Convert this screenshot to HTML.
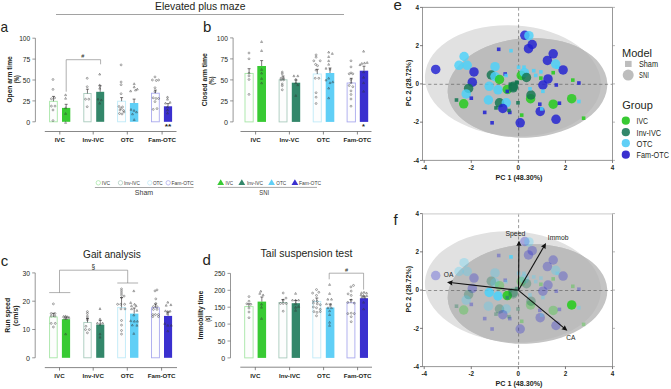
<!DOCTYPE html><html><head><meta charset="utf-8"><style>html,body{margin:0;padding:0;background:#fff;width:671px;height:389px;overflow:hidden;position:relative}</style></head><body><svg width="671" height="389" viewBox="0 0 671 389" style="position:absolute;left:0;top:0">
<g font-family='"Liberation Sans", sans-serif'>
<rect width="671" height="389" fill="#ffffff"/>
<text x="0.50" y="31.50" font-size="15" text-anchor="start" font-weight="normal" fill="#231f20" textLength="7.6" lengthAdjust="spacingAndGlyphs" >a</text>
<text x="203.10" y="32.00" font-size="15" text-anchor="start" font-weight="normal" fill="#231f20" >b</text>
<text x="0.70" y="265.60" font-size="15" text-anchor="start" font-weight="normal" fill="#231f20" >c</text>
<text x="202.60" y="265.20" font-size="15" text-anchor="start" font-weight="normal" fill="#231f20" >d</text>
<text x="393.50" y="9.60" font-size="15" text-anchor="start" font-weight="normal" fill="#231f20" >e</text>
<text x="393.50" y="224.60" font-size="15" text-anchor="start" font-weight="normal" fill="#231f20" >f</text>
<text x="155.00" y="9.80" font-size="10.3" text-anchor="start" font-weight="normal" fill="#231f20" textLength="90.4" lengthAdjust="spacingAndGlyphs" >Elevated plus maze</text>
<line x1="56.00" y1="14.50" x2="344.00" y2="14.50" stroke="#8a8a8a" stroke-width="0.8" />
<text x="83.10" y="257.60" font-size="10.3" text-anchor="start" font-weight="normal" fill="#231f20" textLength="57.7" lengthAdjust="spacingAndGlyphs" >Gait analysis</text>
<text x="260.60" y="257.40" font-size="10.3" text-anchor="start" font-weight="normal" fill="#231f20" textLength="91.8" lengthAdjust="spacingAndGlyphs" >Tail suspension test</text>
<line x1="35.40" y1="38.20" x2="35.40" y2="121.80" stroke="#6a6a6a" stroke-width="0.7" />
<line x1="32.40" y1="121.80" x2="35.40" y2="121.80" stroke="#6a6a6a" stroke-width="0.7" />
<text x="30.20" y="124.70" font-size="7" text-anchor="end" font-weight="normal" fill="#231f20" textLength="3.9499999999999997" lengthAdjust="spacingAndGlyphs" >0</text>
<line x1="32.40" y1="100.90" x2="35.40" y2="100.90" stroke="#6a6a6a" stroke-width="0.7" />
<text x="30.20" y="103.80" font-size="7" text-anchor="end" font-weight="normal" fill="#231f20" textLength="7.5" lengthAdjust="spacingAndGlyphs" >25</text>
<line x1="32.40" y1="80.00" x2="35.40" y2="80.00" stroke="#6a6a6a" stroke-width="0.7" />
<text x="30.20" y="82.90" font-size="7" text-anchor="end" font-weight="normal" fill="#231f20" textLength="7.5" lengthAdjust="spacingAndGlyphs" >50</text>
<line x1="32.40" y1="59.10" x2="35.40" y2="59.10" stroke="#6a6a6a" stroke-width="0.7" />
<text x="30.20" y="62.00" font-size="7" text-anchor="end" font-weight="normal" fill="#231f20" textLength="7.5" lengthAdjust="spacingAndGlyphs" >75</text>
<line x1="32.40" y1="38.20" x2="35.40" y2="38.20" stroke="#6a6a6a" stroke-width="0.7" />
<text x="30.20" y="41.10" font-size="7" text-anchor="end" font-weight="normal" fill="#231f20" textLength="11.049999999999999" lengthAdjust="spacingAndGlyphs" >100</text>
<line x1="44.80" y1="131.50" x2="176.50" y2="131.50" stroke="#555555" stroke-width="0.7" />
<line x1="59.80" y1="131.50" x2="59.80" y2="134.50" stroke="#555555" stroke-width="0.7" />
<text x="59.80" y="142.00" font-size="6.2" text-anchor="middle" font-weight="bold" fill="#231f20" >IVC</text>
<line x1="93.20" y1="131.50" x2="93.20" y2="134.50" stroke="#555555" stroke-width="0.7" />
<text x="93.20" y="142.00" font-size="6.2" text-anchor="middle" font-weight="bold" fill="#231f20" >Inv-IVC</text>
<line x1="127.30" y1="131.50" x2="127.30" y2="134.50" stroke="#555555" stroke-width="0.7" />
<text x="127.30" y="142.00" font-size="6.2" text-anchor="middle" font-weight="bold" fill="#231f20" >OTC</text>
<line x1="162.10" y1="131.50" x2="162.10" y2="134.50" stroke="#555555" stroke-width="0.7" />
<text x="162.10" y="142.00" font-size="6.2" text-anchor="middle" font-weight="bold" fill="#231f20" >Fam-OTC</text>
<rect x="49.60" y="101.30" width="7.70" height="20.50" fill="#fdfdfd" stroke="#a6e6a6" stroke-width="0.9"/>
<line x1="53.45" y1="96.40" x2="53.45" y2="101.30" stroke="#231f20" stroke-width="0.6" />
<line x1="51.95" y1="96.40" x2="54.95" y2="96.40" stroke="#231f20" stroke-width="0.6" />
<circle cx="53.00" cy="79.50" r="0.95" fill="none" stroke="#333" stroke-width="0.42"/>
<circle cx="53.00" cy="89.40" r="0.95" fill="none" stroke="#333" stroke-width="0.42"/>
<circle cx="51.40" cy="98.80" r="0.95" fill="none" stroke="#333" stroke-width="0.42"/>
<circle cx="54.60" cy="97.90" r="0.95" fill="none" stroke="#333" stroke-width="0.42"/>
<circle cx="51.40" cy="106.10" r="0.95" fill="none" stroke="#333" stroke-width="0.42"/>
<circle cx="55.00" cy="106.10" r="0.95" fill="none" stroke="#333" stroke-width="0.42"/>
<circle cx="53.00" cy="110.00" r="0.95" fill="none" stroke="#333" stroke-width="0.42"/>
<circle cx="53.00" cy="120.60" r="0.95" fill="none" stroke="#333" stroke-width="0.42"/>
<rect x="62.00" y="107.90" width="8.30" height="13.90" fill="#38ca33"/>
<line x1="66.15" y1="104.30" x2="66.15" y2="107.90" stroke="#231f20" stroke-width="0.6" />
<line x1="64.65" y1="104.30" x2="67.65" y2="104.30" stroke="#231f20" stroke-width="0.6" />
<path d="M65.60,93.85L66.60,95.70L64.60,95.70Z" fill="none" stroke="#333" stroke-width="0.42"/>
<path d="M65.60,97.35L66.60,99.20L64.60,99.20Z" fill="none" stroke="#333" stroke-width="0.42"/>
<path d="M65.60,106.75L66.60,108.60L64.60,108.60Z" fill="none" stroke="#333" stroke-width="0.42"/>
<path d="M65.60,112.55L66.60,114.40L64.60,114.40Z" fill="none" stroke="#333" stroke-width="0.42"/>
<path d="M65.60,121.55L66.60,123.40L64.60,123.40Z" fill="none" stroke="#333" stroke-width="0.42"/>
<rect x="83.80" y="93.50" width="7.30" height="28.30" fill="#fdfdfd" stroke="#a9cbbd" stroke-width="0.9"/>
<line x1="87.45" y1="89.20" x2="87.45" y2="93.50" stroke="#231f20" stroke-width="0.6" />
<line x1="85.95" y1="89.20" x2="88.95" y2="89.20" stroke="#231f20" stroke-width="0.6" />
<circle cx="87.20" cy="78.30" r="0.95" fill="none" stroke="#333" stroke-width="0.42"/>
<circle cx="87.20" cy="86.70" r="0.95" fill="none" stroke="#333" stroke-width="0.42"/>
<circle cx="85.50" cy="99.20" r="0.95" fill="none" stroke="#333" stroke-width="0.42"/>
<circle cx="88.80" cy="99.20" r="0.95" fill="none" stroke="#333" stroke-width="0.42"/>
<circle cx="87.20" cy="106.70" r="0.95" fill="none" stroke="#333" stroke-width="0.42"/>
<rect x="96.20" y="91.80" width="8.00" height="30.00" fill="#33876a"/>
<line x1="100.20" y1="85.80" x2="100.20" y2="91.80" stroke="#231f20" stroke-width="0.6" />
<line x1="98.70" y1="85.80" x2="101.70" y2="85.80" stroke="#231f20" stroke-width="0.6" />
<path d="M99.70,73.15L100.70,75.00L98.70,75.00Z" fill="none" stroke="#333" stroke-width="0.42"/>
<path d="M99.70,83.95L100.70,85.80L98.70,85.80Z" fill="none" stroke="#333" stroke-width="0.42"/>
<path d="M99.70,87.25L100.70,89.10L98.70,89.10Z" fill="none" stroke="#333" stroke-width="0.42"/>
<path d="M98.00,98.15L99.00,100.00L97.00,100.00Z" fill="none" stroke="#333" stroke-width="0.42"/>
<path d="M101.30,98.95L102.30,100.80L100.30,100.80Z" fill="none" stroke="#333" stroke-width="0.42"/>
<path d="M99.70,102.25L100.70,104.10L98.70,104.10Z" fill="none" stroke="#333" stroke-width="0.42"/>
<rect x="117.60" y="101.20" width="8.00" height="20.60" fill="#fdfdfd" stroke="#bfeaf8" stroke-width="0.9"/>
<line x1="121.60" y1="97.60" x2="121.60" y2="101.20" stroke="#231f20" stroke-width="0.6" />
<line x1="120.10" y1="97.60" x2="123.10" y2="97.60" stroke="#231f20" stroke-width="0.6" />
<circle cx="121.10" cy="64.90" r="0.95" fill="none" stroke="#333" stroke-width="0.42"/>
<circle cx="121.10" cy="82.00" r="0.95" fill="none" stroke="#333" stroke-width="0.42"/>
<circle cx="121.10" cy="84.70" r="0.95" fill="none" stroke="#333" stroke-width="0.42"/>
<circle cx="121.10" cy="93.70" r="0.95" fill="none" stroke="#333" stroke-width="0.42"/>
<circle cx="119.00" cy="106.50" r="0.95" fill="none" stroke="#333" stroke-width="0.42"/>
<circle cx="122.50" cy="107.00" r="0.95" fill="none" stroke="#333" stroke-width="0.42"/>
<circle cx="120.00" cy="110.00" r="0.95" fill="none" stroke="#333" stroke-width="0.42"/>
<circle cx="123.50" cy="110.50" r="0.95" fill="none" stroke="#333" stroke-width="0.42"/>
<circle cx="119.50" cy="113.50" r="0.95" fill="none" stroke="#333" stroke-width="0.42"/>
<circle cx="122.00" cy="114.00" r="0.95" fill="none" stroke="#333" stroke-width="0.42"/>
<circle cx="121.00" cy="108.50" r="0.95" fill="none" stroke="#333" stroke-width="0.42"/>
<circle cx="124.00" cy="112.00" r="0.95" fill="none" stroke="#333" stroke-width="0.42"/>
<rect x="129.90" y="103.00" width="8.40" height="18.80" fill="#60cff6"/>
<line x1="134.10" y1="99.10" x2="134.10" y2="103.00" stroke="#231f20" stroke-width="0.6" />
<line x1="132.60" y1="99.10" x2="135.60" y2="99.10" stroke="#231f20" stroke-width="0.6" />
<path d="M134.20,82.75L135.20,84.60L133.20,84.60Z" fill="none" stroke="#333" stroke-width="0.42"/>
<path d="M134.20,85.95L135.20,87.80L133.20,87.80Z" fill="none" stroke="#333" stroke-width="0.42"/>
<path d="M130.60,89.95L131.60,91.80L129.60,91.80Z" fill="none" stroke="#333" stroke-width="0.42"/>
<path d="M135.50,89.05L136.50,90.90L134.50,90.90Z" fill="none" stroke="#333" stroke-width="0.42"/>
<path d="M137.30,88.15L138.30,90.00L136.30,90.00Z" fill="none" stroke="#333" stroke-width="0.42"/>
<path d="M131.00,108.45L132.00,110.30L130.00,110.30Z" fill="none" stroke="#333" stroke-width="0.42"/>
<path d="M134.00,109.45L135.00,111.30L133.00,111.30Z" fill="none" stroke="#333" stroke-width="0.42"/>
<path d="M136.50,110.95L137.50,112.80L135.50,112.80Z" fill="none" stroke="#333" stroke-width="0.42"/>
<path d="M132.50,112.95L133.50,114.80L131.50,114.80Z" fill="none" stroke="#333" stroke-width="0.42"/>
<path d="M134.20,118.65L135.20,120.50L133.20,120.50Z" fill="none" stroke="#333" stroke-width="0.42"/>
<rect x="151.50" y="93.20" width="7.80" height="28.60" fill="#fdfdfd" stroke="#aaaaee" stroke-width="0.9"/>
<line x1="155.40" y1="90.10" x2="155.40" y2="93.20" stroke="#231f20" stroke-width="0.6" />
<line x1="153.90" y1="90.10" x2="156.90" y2="90.10" stroke="#231f20" stroke-width="0.6" />
<circle cx="155.00" cy="76.90" r="0.95" fill="none" stroke="#333" stroke-width="0.42"/>
<circle cx="152.40" cy="80.00" r="0.95" fill="none" stroke="#333" stroke-width="0.42"/>
<circle cx="156.30" cy="80.50" r="0.95" fill="none" stroke="#333" stroke-width="0.42"/>
<circle cx="158.60" cy="80.00" r="0.95" fill="none" stroke="#333" stroke-width="0.42"/>
<circle cx="155.00" cy="87.70" r="0.95" fill="none" stroke="#333" stroke-width="0.42"/>
<circle cx="155.00" cy="91.60" r="0.95" fill="none" stroke="#333" stroke-width="0.42"/>
<circle cx="153.20" cy="97.80" r="0.95" fill="none" stroke="#333" stroke-width="0.42"/>
<circle cx="156.00" cy="98.50" r="0.95" fill="none" stroke="#333" stroke-width="0.42"/>
<circle cx="158.60" cy="98.50" r="0.95" fill="none" stroke="#333" stroke-width="0.42"/>
<circle cx="155.00" cy="101.60" r="0.95" fill="none" stroke="#333" stroke-width="0.42"/>
<circle cx="153.20" cy="109.40" r="0.95" fill="none" stroke="#333" stroke-width="0.42"/>
<circle cx="157.00" cy="108.60" r="0.95" fill="none" stroke="#333" stroke-width="0.42"/>
<rect x="163.90" y="106.30" width="8.20" height="15.50" fill="#3a30cf"/>
<line x1="168.00" y1="103.60" x2="168.00" y2="106.30" stroke="#231f20" stroke-width="0.6" />
<line x1="166.50" y1="103.60" x2="169.50" y2="103.60" stroke="#231f20" stroke-width="0.6" />
<path d="M167.50,95.95L168.50,97.80L166.50,97.80Z" fill="none" stroke="#333" stroke-width="0.42"/>
<path d="M167.50,98.25L168.50,100.10L166.50,100.10Z" fill="none" stroke="#333" stroke-width="0.42"/>
<path d="M165.50,102.15L166.50,104.00L164.50,104.00Z" fill="none" stroke="#333" stroke-width="0.42"/>
<path d="M170.10,101.35L171.10,103.20L169.10,103.20Z" fill="none" stroke="#333" stroke-width="0.42"/>
<path d="M167.50,105.95L168.50,107.80L166.50,107.80Z" fill="none" stroke="#333" stroke-width="0.42"/>
<path d="M167.50,109.05L168.50,110.90L166.50,110.90Z" fill="none" stroke="#333" stroke-width="0.42"/>
<path d="M167.50,112.15L168.50,114.00L166.50,114.00Z" fill="none" stroke="#333" stroke-width="0.42"/>
<g transform="translate(12.40,79.40) rotate(-90)"><text x="0" y="0" font-size="7" font-weight="bold" text-anchor="middle" fill="#231f20" textLength="46.3" lengthAdjust="spacingAndGlyphs">Open arm time</text></g>
<g transform="translate(18.60,79.30) rotate(-90)"><text x="0" y="0" font-size="6.3" font-weight="bold" text-anchor="middle" fill="#231f20" textLength="8" lengthAdjust="spacingAndGlyphs">(%)</text></g>
<line x1="233.10" y1="37.90" x2="233.10" y2="121.90" stroke="#6a6a6a" stroke-width="0.7" />
<line x1="230.10" y1="121.90" x2="233.10" y2="121.90" stroke="#6a6a6a" stroke-width="0.7" />
<text x="227.90" y="124.80" font-size="7" text-anchor="end" font-weight="normal" fill="#231f20" textLength="3.9499999999999997" lengthAdjust="spacingAndGlyphs" >0</text>
<line x1="230.10" y1="100.90" x2="233.10" y2="100.90" stroke="#6a6a6a" stroke-width="0.7" />
<text x="227.90" y="103.80" font-size="7" text-anchor="end" font-weight="normal" fill="#231f20" textLength="7.5" lengthAdjust="spacingAndGlyphs" >25</text>
<line x1="230.10" y1="79.90" x2="233.10" y2="79.90" stroke="#6a6a6a" stroke-width="0.7" />
<text x="227.90" y="82.80" font-size="7" text-anchor="end" font-weight="normal" fill="#231f20" textLength="7.5" lengthAdjust="spacingAndGlyphs" >50</text>
<line x1="230.10" y1="58.90" x2="233.10" y2="58.90" stroke="#6a6a6a" stroke-width="0.7" />
<text x="227.90" y="61.80" font-size="7" text-anchor="end" font-weight="normal" fill="#231f20" textLength="7.5" lengthAdjust="spacingAndGlyphs" >75</text>
<line x1="230.10" y1="37.90" x2="233.10" y2="37.90" stroke="#6a6a6a" stroke-width="0.7" />
<text x="227.90" y="40.80" font-size="7" text-anchor="end" font-weight="normal" fill="#231f20" textLength="11.049999999999999" lengthAdjust="spacingAndGlyphs" >100</text>
<line x1="240.50" y1="131.50" x2="371.50" y2="131.50" stroke="#555555" stroke-width="0.7" />
<line x1="255.60" y1="131.50" x2="255.60" y2="134.50" stroke="#555555" stroke-width="0.7" />
<text x="255.60" y="142.00" font-size="6.2" text-anchor="middle" font-weight="bold" fill="#231f20" >IVC</text>
<line x1="289.40" y1="131.50" x2="289.40" y2="134.50" stroke="#555555" stroke-width="0.7" />
<text x="289.40" y="142.00" font-size="6.2" text-anchor="middle" font-weight="bold" fill="#231f20" >Inv-VC</text>
<line x1="323.40" y1="131.50" x2="323.40" y2="134.50" stroke="#555555" stroke-width="0.7" />
<text x="323.40" y="142.00" font-size="6.2" text-anchor="middle" font-weight="bold" fill="#231f20" >OTC</text>
<line x1="357.40" y1="131.50" x2="357.40" y2="134.50" stroke="#555555" stroke-width="0.7" />
<text x="357.40" y="142.00" font-size="6.2" text-anchor="middle" font-weight="bold" fill="#231f20" >Fam-OTC</text>
<rect x="245.00" y="73.40" width="8.20" height="48.50" fill="#fdfdfd" stroke="#a6e6a6" stroke-width="0.9"/>
<line x1="249.10" y1="68.70" x2="249.10" y2="73.40" stroke="#231f20" stroke-width="0.6" />
<line x1="247.60" y1="68.70" x2="250.60" y2="68.70" stroke="#231f20" stroke-width="0.6" />
<circle cx="249.00" cy="53.00" r="0.95" fill="none" stroke="#333" stroke-width="0.42"/>
<circle cx="249.00" cy="58.80" r="0.95" fill="none" stroke="#333" stroke-width="0.42"/>
<circle cx="249.00" cy="73.20" r="0.95" fill="none" stroke="#333" stroke-width="0.42"/>
<circle cx="249.00" cy="75.90" r="0.95" fill="none" stroke="#333" stroke-width="0.42"/>
<circle cx="249.00" cy="79.50" r="0.95" fill="none" stroke="#333" stroke-width="0.42"/>
<circle cx="249.00" cy="94.40" r="0.95" fill="none" stroke="#333" stroke-width="0.42"/>
<rect x="257.30" y="66.00" width="8.70" height="55.90" fill="#38ca33"/>
<line x1="261.65" y1="60.60" x2="261.65" y2="66.00" stroke="#231f20" stroke-width="0.6" />
<line x1="260.15" y1="60.60" x2="263.15" y2="60.60" stroke="#231f20" stroke-width="0.6" />
<path d="M261.60,40.65L262.60,42.50L260.60,42.50Z" fill="none" stroke="#333" stroke-width="0.42"/>
<path d="M261.60,49.65L262.60,51.50L260.60,51.50Z" fill="none" stroke="#333" stroke-width="0.42"/>
<path d="M261.60,68.55L262.60,70.40L260.60,70.40Z" fill="none" stroke="#333" stroke-width="0.42"/>
<path d="M261.60,72.15L262.60,74.00L260.60,74.00Z" fill="none" stroke="#333" stroke-width="0.42"/>
<path d="M261.60,77.55L262.60,79.40L260.60,79.40Z" fill="none" stroke="#333" stroke-width="0.42"/>
<path d="M261.60,81.95L262.60,83.80L260.60,83.80Z" fill="none" stroke="#333" stroke-width="0.42"/>
<rect x="279.10" y="79.80" width="7.90" height="42.10" fill="#fdfdfd" stroke="#a9cbbd" stroke-width="0.9"/>
<line x1="283.05" y1="76.00" x2="283.05" y2="79.80" stroke="#231f20" stroke-width="0.6" />
<line x1="281.55" y1="76.00" x2="284.55" y2="76.00" stroke="#231f20" stroke-width="0.6" />
<circle cx="282.30" cy="72.10" r="0.95" fill="none" stroke="#333" stroke-width="0.42"/>
<circle cx="282.30" cy="73.80" r="0.95" fill="none" stroke="#333" stroke-width="0.42"/>
<circle cx="281.00" cy="78.20" r="0.95" fill="none" stroke="#333" stroke-width="0.42"/>
<circle cx="283.60" cy="78.20" r="0.95" fill="none" stroke="#333" stroke-width="0.42"/>
<circle cx="281.00" cy="79.90" r="0.95" fill="none" stroke="#333" stroke-width="0.42"/>
<circle cx="283.60" cy="79.90" r="0.95" fill="none" stroke="#333" stroke-width="0.42"/>
<circle cx="282.30" cy="84.00" r="0.95" fill="none" stroke="#333" stroke-width="0.42"/>
<circle cx="282.30" cy="85.70" r="0.95" fill="none" stroke="#333" stroke-width="0.42"/>
<circle cx="282.30" cy="89.80" r="0.95" fill="none" stroke="#333" stroke-width="0.42"/>
<rect x="291.80" y="82.70" width="8.40" height="39.20" fill="#33876a"/>
<line x1="296.00" y1="80.00" x2="296.00" y2="82.70" stroke="#231f20" stroke-width="0.6" />
<line x1="294.50" y1="80.00" x2="297.50" y2="80.00" stroke="#231f20" stroke-width="0.6" />
<path d="M293.90,74.85L294.90,76.70L292.90,76.70Z" fill="none" stroke="#333" stroke-width="0.42"/>
<path d="M297.80,74.85L298.80,76.70L296.80,76.70Z" fill="none" stroke="#333" stroke-width="0.42"/>
<path d="M295.80,78.25L296.80,80.10L294.80,80.10Z" fill="none" stroke="#333" stroke-width="0.42"/>
<path d="M295.80,81.75L296.80,83.60L294.80,83.60Z" fill="none" stroke="#333" stroke-width="0.42"/>
<path d="M297.80,83.85L298.80,85.70L296.80,85.70Z" fill="none" stroke="#333" stroke-width="0.42"/>
<path d="M295.80,94.55L296.80,96.40L294.80,96.40Z" fill="none" stroke="#333" stroke-width="0.42"/>
<rect x="313.20" y="74.00" width="8.10" height="47.90" fill="#fdfdfd" stroke="#bfeaf8" stroke-width="0.9"/>
<line x1="317.25" y1="69.30" x2="317.25" y2="74.00" stroke="#231f20" stroke-width="0.6" />
<line x1="315.75" y1="69.30" x2="318.75" y2="69.30" stroke="#231f20" stroke-width="0.6" />
<circle cx="316.10" cy="54.90" r="0.95" fill="none" stroke="#333" stroke-width="0.42"/>
<circle cx="316.10" cy="57.20" r="0.95" fill="none" stroke="#333" stroke-width="0.42"/>
<circle cx="313.80" cy="60.80" r="0.95" fill="none" stroke="#333" stroke-width="0.42"/>
<circle cx="320.20" cy="60.80" r="0.95" fill="none" stroke="#333" stroke-width="0.42"/>
<circle cx="315.60" cy="64.40" r="0.95" fill="none" stroke="#333" stroke-width="0.42"/>
<circle cx="317.50" cy="65.70" r="0.95" fill="none" stroke="#333" stroke-width="0.42"/>
<circle cx="316.10" cy="70.20" r="0.95" fill="none" stroke="#333" stroke-width="0.42"/>
<circle cx="315.20" cy="78.30" r="0.95" fill="none" stroke="#333" stroke-width="0.42"/>
<circle cx="318.80" cy="78.30" r="0.95" fill="none" stroke="#333" stroke-width="0.42"/>
<circle cx="316.10" cy="92.70" r="0.95" fill="none" stroke="#333" stroke-width="0.42"/>
<circle cx="316.10" cy="97.20" r="0.95" fill="none" stroke="#333" stroke-width="0.42"/>
<circle cx="316.10" cy="103.50" r="0.95" fill="none" stroke="#333" stroke-width="0.42"/>
<rect x="325.70" y="73.00" width="8.60" height="48.90" fill="#60cff6"/>
<line x1="330.00" y1="68.00" x2="330.00" y2="73.00" stroke="#231f20" stroke-width="0.6" />
<line x1="328.50" y1="68.00" x2="331.50" y2="68.00" stroke="#231f20" stroke-width="0.6" />
<path d="M328.70,51.15L329.70,53.00L327.70,53.00Z" fill="none" stroke="#333" stroke-width="0.42"/>
<path d="M332.30,52.55L333.30,54.40L331.30,54.40Z" fill="none" stroke="#333" stroke-width="0.42"/>
<path d="M328.70,55.65L329.70,57.50L327.70,57.50Z" fill="none" stroke="#333" stroke-width="0.42"/>
<path d="M328.70,59.75L329.70,61.60L327.70,61.60Z" fill="none" stroke="#333" stroke-width="0.42"/>
<path d="M328.70,63.35L329.70,65.20L327.70,65.20Z" fill="none" stroke="#333" stroke-width="0.42"/>
<path d="M326.00,67.35L327.00,69.20L325.00,69.20Z" fill="none" stroke="#333" stroke-width="0.42"/>
<path d="M330.00,68.25L331.00,70.10L329.00,70.10Z" fill="none" stroke="#333" stroke-width="0.42"/>
<path d="M328.70,77.25L329.70,79.10L327.70,79.10Z" fill="none" stroke="#333" stroke-width="0.42"/>
<path d="M326.00,79.05L327.00,80.90L325.00,80.90Z" fill="none" stroke="#333" stroke-width="0.42"/>
<path d="M330.00,81.75L331.00,83.60L329.00,83.60Z" fill="none" stroke="#333" stroke-width="0.42"/>
<path d="M332.80,80.85L333.80,82.70L331.80,82.70Z" fill="none" stroke="#333" stroke-width="0.42"/>
<path d="M328.70,87.15L329.70,89.00L327.70,89.00Z" fill="none" stroke="#333" stroke-width="0.42"/>
<path d="M328.70,96.95L329.70,98.80L327.70,98.80Z" fill="none" stroke="#333" stroke-width="0.42"/>
<rect x="347.10" y="83.00" width="8.30" height="38.90" fill="#fdfdfd" stroke="#aaaaee" stroke-width="0.9"/>
<line x1="351.25" y1="78.30" x2="351.25" y2="83.00" stroke="#231f20" stroke-width="0.6" />
<line x1="349.75" y1="78.30" x2="352.75" y2="78.30" stroke="#231f20" stroke-width="0.6" />
<circle cx="351.00" cy="60.80" r="0.95" fill="none" stroke="#333" stroke-width="0.42"/>
<circle cx="351.00" cy="66.90" r="0.95" fill="none" stroke="#333" stroke-width="0.42"/>
<circle cx="351.00" cy="72.90" r="0.95" fill="none" stroke="#333" stroke-width="0.42"/>
<circle cx="349.20" cy="73.80" r="0.95" fill="none" stroke="#333" stroke-width="0.42"/>
<circle cx="352.80" cy="73.80" r="0.95" fill="none" stroke="#333" stroke-width="0.42"/>
<circle cx="351.00" cy="79.50" r="0.95" fill="none" stroke="#333" stroke-width="0.42"/>
<circle cx="351.00" cy="82.80" r="0.95" fill="none" stroke="#333" stroke-width="0.42"/>
<circle cx="349.20" cy="85.50" r="0.95" fill="none" stroke="#333" stroke-width="0.42"/>
<circle cx="352.80" cy="86.70" r="0.95" fill="none" stroke="#333" stroke-width="0.42"/>
<circle cx="351.00" cy="90.90" r="0.95" fill="none" stroke="#333" stroke-width="0.42"/>
<circle cx="351.00" cy="94.50" r="0.95" fill="none" stroke="#333" stroke-width="0.42"/>
<circle cx="351.00" cy="99.00" r="0.95" fill="none" stroke="#333" stroke-width="0.42"/>
<circle cx="351.00" cy="106.20" r="0.95" fill="none" stroke="#333" stroke-width="0.42"/>
<rect x="359.80" y="70.70" width="8.40" height="51.20" fill="#3a30cf"/>
<line x1="364.00" y1="66.20" x2="364.00" y2="70.70" stroke="#231f20" stroke-width="0.6" />
<line x1="362.50" y1="66.20" x2="365.50" y2="66.20" stroke="#231f20" stroke-width="0.6" />
<path d="M363.60,50.25L364.60,52.10L362.60,52.10Z" fill="none" stroke="#333" stroke-width="0.42"/>
<path d="M360.00,63.75L361.00,65.60L359.00,65.60Z" fill="none" stroke="#333" stroke-width="0.42"/>
<path d="M361.80,62.45L362.80,64.30L360.80,64.30Z" fill="none" stroke="#333" stroke-width="0.42"/>
<path d="M364.50,61.95L365.50,63.80L363.50,63.80Z" fill="none" stroke="#333" stroke-width="0.42"/>
<path d="M367.20,61.55L368.20,63.40L366.20,63.40Z" fill="none" stroke="#333" stroke-width="0.42"/>
<path d="M363.60,70.95L364.60,72.80L362.60,72.80Z" fill="none" stroke="#333" stroke-width="0.42"/>
<path d="M363.60,76.35L364.60,78.20L362.60,78.20Z" fill="none" stroke="#333" stroke-width="0.42"/>
<path d="M363.60,81.75L364.60,83.60L362.60,83.60Z" fill="none" stroke="#333" stroke-width="0.42"/>
<path d="M363.60,90.35L364.60,92.20L362.60,92.20Z" fill="none" stroke="#333" stroke-width="0.42"/>
<g transform="translate(207.30,79.70) rotate(-90)"><text x="0" y="0" font-size="7" font-weight="bold" text-anchor="middle" fill="#231f20" textLength="53.1" lengthAdjust="spacingAndGlyphs">Closed arm time</text></g>
<g transform="translate(213.80,80.70) rotate(-90)"><text x="0" y="0" font-size="6.3" font-weight="bold" text-anchor="middle" fill="#231f20" textLength="8.2" lengthAdjust="spacingAndGlyphs">(%)</text></g>
<line x1="35.20" y1="272.90" x2="35.20" y2="357.80" stroke="#6a6a6a" stroke-width="0.7" />
<line x1="32.20" y1="357.80" x2="35.20" y2="357.80" stroke="#6a6a6a" stroke-width="0.7" />
<text x="30.00" y="360.70" font-size="7" text-anchor="end" font-weight="normal" fill="#231f20" textLength="3.9499999999999997" lengthAdjust="spacingAndGlyphs" >0</text>
<line x1="32.20" y1="329.50" x2="35.20" y2="329.50" stroke="#6a6a6a" stroke-width="0.7" />
<text x="30.00" y="332.40" font-size="7" text-anchor="end" font-weight="normal" fill="#231f20" textLength="7.5" lengthAdjust="spacingAndGlyphs" >10</text>
<line x1="32.20" y1="301.20" x2="35.20" y2="301.20" stroke="#6a6a6a" stroke-width="0.7" />
<text x="30.00" y="304.10" font-size="7" text-anchor="end" font-weight="normal" fill="#231f20" textLength="7.5" lengthAdjust="spacingAndGlyphs" >20</text>
<line x1="32.20" y1="272.90" x2="35.20" y2="272.90" stroke="#6a6a6a" stroke-width="0.7" />
<text x="30.00" y="275.80" font-size="7" text-anchor="end" font-weight="normal" fill="#231f20" textLength="7.5" lengthAdjust="spacingAndGlyphs" >30</text>
<line x1="44.80" y1="367.60" x2="177.00" y2="367.60" stroke="#555555" stroke-width="0.7" />
<line x1="59.50" y1="367.60" x2="59.50" y2="370.60" stroke="#555555" stroke-width="0.7" />
<text x="59.50" y="378.10" font-size="6.2" text-anchor="middle" font-weight="bold" fill="#231f20" >IVC</text>
<line x1="93.20" y1="367.60" x2="93.20" y2="370.60" stroke="#555555" stroke-width="0.7" />
<text x="93.20" y="378.10" font-size="6.2" text-anchor="middle" font-weight="bold" fill="#231f20" >Inv-IVC</text>
<line x1="127.30" y1="367.60" x2="127.30" y2="370.60" stroke="#555555" stroke-width="0.7" />
<text x="127.30" y="378.10" font-size="6.2" text-anchor="middle" font-weight="bold" fill="#231f20" >OTC</text>
<line x1="161.60" y1="367.60" x2="161.60" y2="370.60" stroke="#555555" stroke-width="0.7" />
<text x="161.60" y="378.10" font-size="6.2" text-anchor="middle" font-weight="bold" fill="#231f20" >Fam-OTC</text>
<rect x="49.60" y="317.00" width="7.60" height="40.80" fill="#fdfdfd" stroke="#a6e6a6" stroke-width="0.9"/>
<line x1="53.40" y1="313.30" x2="53.40" y2="317.00" stroke="#231f20" stroke-width="0.6" />
<line x1="51.90" y1="313.30" x2="54.90" y2="313.30" stroke="#231f20" stroke-width="0.6" />
<circle cx="53.40" cy="303.90" r="0.95" fill="none" stroke="#333" stroke-width="0.42"/>
<circle cx="51.20" cy="313.50" r="0.95" fill="none" stroke="#333" stroke-width="0.42"/>
<circle cx="55.00" cy="313.50" r="0.95" fill="none" stroke="#333" stroke-width="0.42"/>
<circle cx="51.20" cy="316.10" r="0.95" fill="none" stroke="#333" stroke-width="0.42"/>
<circle cx="55.00" cy="316.10" r="0.95" fill="none" stroke="#333" stroke-width="0.42"/>
<circle cx="51.20" cy="323.40" r="0.95" fill="none" stroke="#333" stroke-width="0.42"/>
<circle cx="55.30" cy="323.40" r="0.95" fill="none" stroke="#333" stroke-width="0.42"/>
<circle cx="53.40" cy="327.00" r="0.95" fill="none" stroke="#333" stroke-width="0.42"/>
<rect x="61.90" y="319.20" width="8.20" height="38.60" fill="#38ca33"/>
<line x1="66.00" y1="317.00" x2="66.00" y2="319.20" stroke="#231f20" stroke-width="0.6" />
<line x1="64.50" y1="317.00" x2="67.50" y2="317.00" stroke="#231f20" stroke-width="0.6" />
<path d="M63.50,315.45L64.50,317.30L62.50,317.30Z" fill="none" stroke="#333" stroke-width="0.42"/>
<path d="M65.50,314.95L66.50,316.80L64.50,316.80Z" fill="none" stroke="#333" stroke-width="0.42"/>
<path d="M67.50,315.75L68.50,317.60L66.50,317.60Z" fill="none" stroke="#333" stroke-width="0.42"/>
<path d="M69.00,316.45L70.00,318.30L68.00,318.30Z" fill="none" stroke="#333" stroke-width="0.42"/>
<path d="M64.50,317.45L65.50,319.30L63.50,319.30Z" fill="none" stroke="#333" stroke-width="0.42"/>
<path d="M66.50,317.55L67.50,319.40L65.50,319.40Z" fill="none" stroke="#333" stroke-width="0.42"/>
<path d="M65.60,332.95L66.60,334.80L64.60,334.80Z" fill="none" stroke="#333" stroke-width="0.42"/>
<rect x="83.80" y="322.40" width="7.40" height="35.40" fill="#fdfdfd" stroke="#a9cbbd" stroke-width="0.9"/>
<line x1="87.50" y1="318.50" x2="87.50" y2="322.40" stroke="#231f20" stroke-width="0.6" />
<line x1="86.00" y1="318.50" x2="89.00" y2="318.50" stroke="#231f20" stroke-width="0.6" />
<circle cx="87.40" cy="311.60" r="0.95" fill="none" stroke="#333" stroke-width="0.42"/>
<circle cx="87.40" cy="313.50" r="0.95" fill="none" stroke="#333" stroke-width="0.42"/>
<circle cx="87.40" cy="316.10" r="0.95" fill="none" stroke="#333" stroke-width="0.42"/>
<circle cx="87.40" cy="318.00" r="0.95" fill="none" stroke="#333" stroke-width="0.42"/>
<circle cx="87.40" cy="319.90" r="0.95" fill="none" stroke="#333" stroke-width="0.42"/>
<circle cx="85.90" cy="326.30" r="0.95" fill="none" stroke="#333" stroke-width="0.42"/>
<circle cx="85.50" cy="329.60" r="0.95" fill="none" stroke="#333" stroke-width="0.42"/>
<circle cx="89.30" cy="329.60" r="0.95" fill="none" stroke="#333" stroke-width="0.42"/>
<circle cx="87.40" cy="332.80" r="0.95" fill="none" stroke="#333" stroke-width="0.42"/>
<rect x="96.20" y="324.60" width="8.10" height="33.20" fill="#33876a"/>
<line x1="100.25" y1="320.50" x2="100.25" y2="324.60" stroke="#231f20" stroke-width="0.6" />
<line x1="98.75" y1="320.50" x2="101.75" y2="320.50" stroke="#231f20" stroke-width="0.6" />
<path d="M100.00,307.65L101.00,309.50L99.00,309.50Z" fill="none" stroke="#333" stroke-width="0.42"/>
<path d="M100.00,317.95L101.00,319.80L99.00,319.80Z" fill="none" stroke="#333" stroke-width="0.42"/>
<path d="M97.40,322.05L98.40,323.90L96.40,323.90Z" fill="none" stroke="#333" stroke-width="0.42"/>
<path d="M102.60,322.05L103.60,323.90L101.60,323.90Z" fill="none" stroke="#333" stroke-width="0.42"/>
<path d="M100.00,323.35L101.00,325.20L99.00,325.20Z" fill="none" stroke="#333" stroke-width="0.42"/>
<path d="M100.00,332.95L101.00,334.80L99.00,334.80Z" fill="none" stroke="#333" stroke-width="0.42"/>
<path d="M100.00,336.25L101.00,338.10L99.00,338.10Z" fill="none" stroke="#333" stroke-width="0.42"/>
<rect x="117.70" y="307.40" width="7.70" height="50.40" fill="#fdfdfd" stroke="#bfeaf8" stroke-width="0.9"/>
<line x1="121.55" y1="297.50" x2="121.55" y2="307.40" stroke="#231f20" stroke-width="0.6" />
<line x1="120.05" y1="297.50" x2="123.05" y2="297.50" stroke="#231f20" stroke-width="0.6" />
<circle cx="121.50" cy="288.90" r="0.95" fill="none" stroke="#333" stroke-width="0.42"/>
<circle cx="121.50" cy="290.90" r="0.95" fill="none" stroke="#333" stroke-width="0.42"/>
<circle cx="121.50" cy="293.00" r="0.95" fill="none" stroke="#333" stroke-width="0.42"/>
<circle cx="121.50" cy="295.00" r="0.95" fill="none" stroke="#333" stroke-width="0.42"/>
<circle cx="124.10" cy="296.10" r="0.95" fill="none" stroke="#333" stroke-width="0.42"/>
<circle cx="121.50" cy="297.70" r="0.95" fill="none" stroke="#333" stroke-width="0.42"/>
<circle cx="117.60" cy="304.30" r="0.95" fill="none" stroke="#333" stroke-width="0.42"/>
<circle cx="120.70" cy="304.30" r="0.95" fill="none" stroke="#333" stroke-width="0.42"/>
<circle cx="124.60" cy="304.30" r="0.95" fill="none" stroke="#333" stroke-width="0.42"/>
<circle cx="121.00" cy="308.90" r="0.95" fill="none" stroke="#333" stroke-width="0.42"/>
<circle cx="125.00" cy="308.90" r="0.95" fill="none" stroke="#333" stroke-width="0.42"/>
<circle cx="121.50" cy="320.50" r="0.95" fill="none" stroke="#333" stroke-width="0.42"/>
<circle cx="121.50" cy="325.10" r="0.95" fill="none" stroke="#333" stroke-width="0.42"/>
<circle cx="121.50" cy="330.50" r="0.95" fill="none" stroke="#333" stroke-width="0.42"/>
<circle cx="121.50" cy="334.10" r="0.95" fill="none" stroke="#333" stroke-width="0.42"/>
<rect x="130.00" y="313.60" width="8.40" height="44.20" fill="#60cff6"/>
<line x1="134.20" y1="308.00" x2="134.20" y2="313.60" stroke="#231f20" stroke-width="0.6" />
<line x1="132.70" y1="308.00" x2="135.70" y2="308.00" stroke="#231f20" stroke-width="0.6" />
<path d="M133.80,289.85L134.80,291.70L132.80,291.70Z" fill="none" stroke="#333" stroke-width="0.42"/>
<path d="M130.70,301.65L131.70,303.50L129.70,303.50Z" fill="none" stroke="#333" stroke-width="0.42"/>
<path d="M134.60,303.25L135.60,305.10L133.60,305.10Z" fill="none" stroke="#333" stroke-width="0.42"/>
<path d="M131.50,304.75L132.50,306.60L130.50,306.60Z" fill="none" stroke="#333" stroke-width="0.42"/>
<path d="M136.10,304.75L137.10,306.60L135.10,306.60Z" fill="none" stroke="#333" stroke-width="0.42"/>
<path d="M131.50,307.85L132.50,309.70L130.50,309.70Z" fill="none" stroke="#333" stroke-width="0.42"/>
<path d="M136.90,309.45L137.90,311.30L135.90,311.30Z" fill="none" stroke="#333" stroke-width="0.42"/>
<path d="M133.80,314.05L134.80,315.90L132.80,315.90Z" fill="none" stroke="#333" stroke-width="0.42"/>
<path d="M130.70,319.75L131.70,321.60L129.70,321.60Z" fill="none" stroke="#333" stroke-width="0.42"/>
<path d="M134.30,320.25L135.30,322.10L133.30,322.10Z" fill="none" stroke="#333" stroke-width="0.42"/>
<path d="M137.40,320.25L138.40,322.10L136.40,322.10Z" fill="none" stroke="#333" stroke-width="0.42"/>
<path d="M132.30,324.05L133.30,325.90L131.30,325.90Z" fill="none" stroke="#333" stroke-width="0.42"/>
<path d="M136.90,324.35L137.90,326.20L135.90,326.20Z" fill="none" stroke="#333" stroke-width="0.42"/>
<path d="M133.80,332.55L134.80,334.40L132.80,334.40Z" fill="none" stroke="#333" stroke-width="0.42"/>
<rect x="151.50" y="307.80" width="7.90" height="50.00" fill="#fdfdfd" stroke="#aaaaee" stroke-width="0.9"/>
<line x1="155.45" y1="304.00" x2="155.45" y2="307.80" stroke="#231f20" stroke-width="0.6" />
<line x1="153.95" y1="304.00" x2="156.95" y2="304.00" stroke="#231f20" stroke-width="0.6" />
<circle cx="155.00" cy="290.90" r="0.95" fill="none" stroke="#333" stroke-width="0.42"/>
<circle cx="157.00" cy="289.90" r="0.95" fill="none" stroke="#333" stroke-width="0.42"/>
<circle cx="155.80" cy="298.90" r="0.95" fill="none" stroke="#333" stroke-width="0.42"/>
<circle cx="155.80" cy="303.50" r="0.95" fill="none" stroke="#333" stroke-width="0.42"/>
<circle cx="153.40" cy="306.60" r="0.95" fill="none" stroke="#333" stroke-width="0.42"/>
<circle cx="157.00" cy="306.60" r="0.95" fill="none" stroke="#333" stroke-width="0.42"/>
<circle cx="153.40" cy="309.40" r="0.95" fill="none" stroke="#333" stroke-width="0.42"/>
<circle cx="157.00" cy="309.40" r="0.95" fill="none" stroke="#333" stroke-width="0.42"/>
<circle cx="152.80" cy="314.60" r="0.95" fill="none" stroke="#333" stroke-width="0.42"/>
<circle cx="155.40" cy="314.60" r="0.95" fill="none" stroke="#333" stroke-width="0.42"/>
<circle cx="158.50" cy="314.60" r="0.95" fill="none" stroke="#333" stroke-width="0.42"/>
<circle cx="152.80" cy="316.60" r="0.95" fill="none" stroke="#333" stroke-width="0.42"/>
<circle cx="158.50" cy="316.60" r="0.95" fill="none" stroke="#333" stroke-width="0.42"/>
<rect x="164.00" y="315.90" width="8.10" height="41.90" fill="#3a30cf"/>
<line x1="168.05" y1="312.00" x2="168.05" y2="315.90" stroke="#231f20" stroke-width="0.6" />
<line x1="166.55" y1="312.00" x2="169.55" y2="312.00" stroke="#231f20" stroke-width="0.6" />
<path d="M167.80,301.25L168.80,303.10L166.80,303.10Z" fill="none" stroke="#333" stroke-width="0.42"/>
<path d="M166.20,304.35L167.20,306.20L165.20,306.20Z" fill="none" stroke="#333" stroke-width="0.42"/>
<path d="M170.90,303.75L171.90,305.60L169.90,305.60Z" fill="none" stroke="#333" stroke-width="0.42"/>
<path d="M165.50,309.85L166.50,311.70L164.50,311.70Z" fill="none" stroke="#333" stroke-width="0.42"/>
<path d="M167.80,310.45L168.80,312.30L166.80,312.30Z" fill="none" stroke="#333" stroke-width="0.42"/>
<path d="M170.10,310.15L171.10,312.00L169.10,312.00Z" fill="none" stroke="#333" stroke-width="0.42"/>
<path d="M167.30,312.45L168.30,314.30L166.30,314.30Z" fill="none" stroke="#333" stroke-width="0.42"/>
<path d="M164.70,322.55L165.70,324.40L163.70,324.40Z" fill="none" stroke="#333" stroke-width="0.42"/>
<path d="M167.80,324.35L168.80,326.20L166.80,326.20Z" fill="none" stroke="#333" stroke-width="0.42"/>
<path d="M171.30,324.35L172.30,326.20L170.30,326.20Z" fill="none" stroke="#333" stroke-width="0.42"/>
<path d="M167.80,329.95L168.80,331.80L166.80,331.80Z" fill="none" stroke="#333" stroke-width="0.42"/>
<g transform="translate(9.90,315.30) rotate(-90)"><text x="0" y="0" font-size="7" font-weight="bold" text-anchor="middle" fill="#231f20" textLength="34.7" lengthAdjust="spacingAndGlyphs">Run speed</text></g>
<g transform="translate(18.40,315.70) rotate(-90)"><text x="0" y="0" font-size="6.3" font-weight="bold" text-anchor="middle" fill="#231f20" textLength="20.6" lengthAdjust="spacingAndGlyphs">(cm/s)</text></g>
<line x1="230.50" y1="273.40" x2="230.50" y2="357.90" stroke="#6a6a6a" stroke-width="0.7" />
<line x1="227.50" y1="357.90" x2="230.50" y2="357.90" stroke="#6a6a6a" stroke-width="0.7" />
<text x="225.30" y="360.80" font-size="7" text-anchor="end" font-weight="normal" fill="#231f20" textLength="3.9499999999999997" lengthAdjust="spacingAndGlyphs" >0</text>
<line x1="227.50" y1="341.00" x2="230.50" y2="341.00" stroke="#6a6a6a" stroke-width="0.7" />
<text x="225.30" y="343.90" font-size="7" text-anchor="end" font-weight="normal" fill="#231f20" textLength="7.5" lengthAdjust="spacingAndGlyphs" >50</text>
<line x1="227.50" y1="324.10" x2="230.50" y2="324.10" stroke="#6a6a6a" stroke-width="0.7" />
<text x="225.30" y="327.00" font-size="7" text-anchor="end" font-weight="normal" fill="#231f20" textLength="11.049999999999999" lengthAdjust="spacingAndGlyphs" >100</text>
<line x1="227.50" y1="307.20" x2="230.50" y2="307.20" stroke="#6a6a6a" stroke-width="0.7" />
<text x="225.30" y="310.10" font-size="7" text-anchor="end" font-weight="normal" fill="#231f20" textLength="11.049999999999999" lengthAdjust="spacingAndGlyphs" >150</text>
<line x1="227.50" y1="290.30" x2="230.50" y2="290.30" stroke="#6a6a6a" stroke-width="0.7" />
<text x="225.30" y="293.20" font-size="7" text-anchor="end" font-weight="normal" fill="#231f20" textLength="11.049999999999999" lengthAdjust="spacingAndGlyphs" >200</text>
<line x1="227.50" y1="273.40" x2="230.50" y2="273.40" stroke="#6a6a6a" stroke-width="0.7" />
<text x="225.30" y="276.30" font-size="7" text-anchor="end" font-weight="normal" fill="#231f20" textLength="11.049999999999999" lengthAdjust="spacingAndGlyphs" >250</text>
<line x1="240.30" y1="367.20" x2="372.00" y2="367.20" stroke="#555555" stroke-width="0.7" />
<line x1="255.30" y1="367.20" x2="255.30" y2="370.20" stroke="#555555" stroke-width="0.7" />
<text x="255.30" y="377.70" font-size="6.2" text-anchor="middle" font-weight="bold" fill="#231f20" >IVC</text>
<line x1="289.60" y1="367.20" x2="289.60" y2="370.20" stroke="#555555" stroke-width="0.7" />
<text x="289.60" y="377.70" font-size="6.2" text-anchor="middle" font-weight="bold" fill="#231f20" >Inv-IVC</text>
<line x1="323.60" y1="367.20" x2="323.60" y2="370.20" stroke="#555555" stroke-width="0.7" />
<text x="323.60" y="377.70" font-size="6.2" text-anchor="middle" font-weight="bold" fill="#231f20" >OTC</text>
<line x1="357.60" y1="367.20" x2="357.60" y2="370.20" stroke="#555555" stroke-width="0.7" />
<text x="357.60" y="377.70" font-size="6.2" text-anchor="middle" font-weight="bold" fill="#231f20" >Fam-OTC</text>
<rect x="244.70" y="306.60" width="8.40" height="51.30" fill="#fdfdfd" stroke="#a6e6a6" stroke-width="0.9"/>
<line x1="248.90" y1="303.80" x2="248.90" y2="306.60" stroke="#231f20" stroke-width="0.6" />
<line x1="247.40" y1="303.80" x2="250.40" y2="303.80" stroke="#231f20" stroke-width="0.6" />
<circle cx="249.00" cy="296.60" r="0.95" fill="none" stroke="#333" stroke-width="0.42"/>
<circle cx="249.00" cy="301.20" r="0.95" fill="none" stroke="#333" stroke-width="0.42"/>
<circle cx="246.90" cy="303.80" r="0.95" fill="none" stroke="#333" stroke-width="0.42"/>
<circle cx="250.80" cy="304.30" r="0.95" fill="none" stroke="#333" stroke-width="0.42"/>
<circle cx="249.00" cy="308.10" r="0.95" fill="none" stroke="#333" stroke-width="0.42"/>
<circle cx="249.00" cy="312.00" r="0.95" fill="none" stroke="#333" stroke-width="0.42"/>
<circle cx="249.00" cy="317.70" r="0.95" fill="none" stroke="#333" stroke-width="0.42"/>
<rect x="257.60" y="301.60" width="8.50" height="56.30" fill="#38ca33"/>
<line x1="261.85" y1="297.00" x2="261.85" y2="301.60" stroke="#231f20" stroke-width="0.6" />
<line x1="260.35" y1="297.00" x2="263.35" y2="297.00" stroke="#231f20" stroke-width="0.6" />
<path d="M260.80,290.15L261.80,292.00L259.80,292.00Z" fill="none" stroke="#333" stroke-width="0.42"/>
<path d="M259.80,292.45L260.80,294.30L258.80,294.30Z" fill="none" stroke="#333" stroke-width="0.42"/>
<path d="M263.10,293.95L264.10,295.80L262.10,295.80Z" fill="none" stroke="#333" stroke-width="0.42"/>
<path d="M261.50,303.25L262.50,305.10L260.50,305.10Z" fill="none" stroke="#333" stroke-width="0.42"/>
<path d="M261.50,306.35L262.50,308.20L260.50,308.20Z" fill="none" stroke="#333" stroke-width="0.42"/>
<path d="M261.50,317.55L262.50,319.40L260.50,319.40Z" fill="none" stroke="#333" stroke-width="0.42"/>
<rect x="278.90" y="302.50" width="8.00" height="55.40" fill="#fdfdfd" stroke="#a9cbbd" stroke-width="0.9"/>
<line x1="282.90" y1="299.50" x2="282.90" y2="302.50" stroke="#231f20" stroke-width="0.6" />
<line x1="281.40" y1="299.50" x2="284.40" y2="299.50" stroke="#231f20" stroke-width="0.6" />
<circle cx="283.20" cy="293.00" r="0.95" fill="none" stroke="#333" stroke-width="0.42"/>
<circle cx="286.00" cy="298.10" r="0.95" fill="none" stroke="#333" stroke-width="0.42"/>
<circle cx="283.20" cy="300.10" r="0.95" fill="none" stroke="#333" stroke-width="0.42"/>
<circle cx="280.40" cy="303.50" r="0.95" fill="none" stroke="#333" stroke-width="0.42"/>
<circle cx="283.20" cy="303.50" r="0.95" fill="none" stroke="#333" stroke-width="0.42"/>
<circle cx="286.30" cy="303.50" r="0.95" fill="none" stroke="#333" stroke-width="0.42"/>
<circle cx="283.20" cy="311.20" r="0.95" fill="none" stroke="#333" stroke-width="0.42"/>
<rect x="291.70" y="303.20" width="8.30" height="54.70" fill="#33876a"/>
<line x1="295.85" y1="300.50" x2="295.85" y2="303.20" stroke="#231f20" stroke-width="0.6" />
<line x1="294.35" y1="300.50" x2="297.35" y2="300.50" stroke="#231f20" stroke-width="0.6" />
<path d="M295.60,292.45L296.60,294.30L294.60,294.30Z" fill="none" stroke="#333" stroke-width="0.42"/>
<path d="M292.50,299.05L293.50,300.90L291.50,300.90Z" fill="none" stroke="#333" stroke-width="0.42"/>
<path d="M295.60,299.05L296.60,300.90L294.60,300.90Z" fill="none" stroke="#333" stroke-width="0.42"/>
<path d="M298.60,299.05L299.60,300.90L297.60,300.90Z" fill="none" stroke="#333" stroke-width="0.42"/>
<path d="M295.60,302.45L296.60,304.30L294.60,304.30Z" fill="none" stroke="#333" stroke-width="0.42"/>
<path d="M298.60,305.55L299.60,307.40L297.60,307.40Z" fill="none" stroke="#333" stroke-width="0.42"/>
<path d="M295.60,306.35L296.60,308.20L294.60,308.20Z" fill="none" stroke="#333" stroke-width="0.42"/>
<path d="M295.60,309.45L296.60,311.30L294.60,311.30Z" fill="none" stroke="#333" stroke-width="0.42"/>
<rect x="312.80" y="301.40" width="8.00" height="56.50" fill="#fdfdfd" stroke="#bfeaf8" stroke-width="0.9"/>
<line x1="316.80" y1="298.00" x2="316.80" y2="301.40" stroke="#231f20" stroke-width="0.6" />
<line x1="315.30" y1="298.00" x2="318.30" y2="298.00" stroke="#231f20" stroke-width="0.6" />
<circle cx="316.50" cy="289.60" r="0.95" fill="none" stroke="#333" stroke-width="0.42"/>
<circle cx="312.60" cy="293.10" r="0.95" fill="none" stroke="#333" stroke-width="0.42"/>
<circle cx="318.80" cy="292.30" r="0.95" fill="none" stroke="#333" stroke-width="0.42"/>
<circle cx="316.50" cy="295.40" r="0.95" fill="none" stroke="#333" stroke-width="0.42"/>
<circle cx="313.40" cy="300.80" r="0.95" fill="none" stroke="#333" stroke-width="0.42"/>
<circle cx="317.30" cy="301.60" r="0.95" fill="none" stroke="#333" stroke-width="0.42"/>
<circle cx="313.40" cy="303.10" r="0.95" fill="none" stroke="#333" stroke-width="0.42"/>
<circle cx="317.30" cy="303.90" r="0.95" fill="none" stroke="#333" stroke-width="0.42"/>
<circle cx="320.30" cy="304.70" r="0.95" fill="none" stroke="#333" stroke-width="0.42"/>
<circle cx="313.40" cy="307.00" r="0.95" fill="none" stroke="#333" stroke-width="0.42"/>
<circle cx="316.50" cy="307.80" r="0.95" fill="none" stroke="#333" stroke-width="0.42"/>
<circle cx="320.30" cy="309.30" r="0.95" fill="none" stroke="#333" stroke-width="0.42"/>
<circle cx="313.90" cy="311.60" r="0.95" fill="none" stroke="#333" stroke-width="0.42"/>
<circle cx="317.00" cy="312.40" r="0.95" fill="none" stroke="#333" stroke-width="0.42"/>
<circle cx="320.30" cy="311.60" r="0.95" fill="none" stroke="#333" stroke-width="0.42"/>
<circle cx="316.50" cy="315.80" r="0.95" fill="none" stroke="#333" stroke-width="0.42"/>
<rect x="325.80" y="307.50" width="8.60" height="50.40" fill="#60cff6"/>
<line x1="330.10" y1="304.00" x2="330.10" y2="307.50" stroke="#231f20" stroke-width="0.6" />
<line x1="328.60" y1="304.00" x2="331.60" y2="304.00" stroke="#231f20" stroke-width="0.6" />
<path d="M329.60,283.55L330.60,285.40L328.60,285.40Z" fill="none" stroke="#333" stroke-width="0.42"/>
<path d="M329.60,292.55L330.60,294.40L328.60,294.40Z" fill="none" stroke="#333" stroke-width="0.42"/>
<path d="M327.80,298.25L328.80,300.10L326.80,300.10Z" fill="none" stroke="#333" stroke-width="0.42"/>
<path d="M331.50,298.25L332.50,300.10L330.50,300.10Z" fill="none" stroke="#333" stroke-width="0.42"/>
<path d="M326.50,302.85L327.50,304.70L325.50,304.70Z" fill="none" stroke="#333" stroke-width="0.42"/>
<path d="M330.80,303.35L331.80,305.20L329.80,305.20Z" fill="none" stroke="#333" stroke-width="0.42"/>
<path d="M328.00,306.75L329.00,308.60L327.00,308.60Z" fill="none" stroke="#333" stroke-width="0.42"/>
<path d="M331.50,306.75L332.50,308.60L330.50,308.60Z" fill="none" stroke="#333" stroke-width="0.42"/>
<path d="M329.60,309.85L330.60,311.70L328.60,311.70Z" fill="none" stroke="#333" stroke-width="0.42"/>
<path d="M329.60,313.65L330.60,315.50L328.60,315.50Z" fill="none" stroke="#333" stroke-width="0.42"/>
<path d="M329.60,321.35L330.60,323.20L328.60,323.20Z" fill="none" stroke="#333" stroke-width="0.42"/>
<path d="M329.60,324.45L330.60,326.30L328.60,326.30Z" fill="none" stroke="#333" stroke-width="0.42"/>
<rect x="347.00" y="302.80" width="7.90" height="55.10" fill="#fdfdfd" stroke="#aaaaee" stroke-width="0.9"/>
<line x1="350.95" y1="299.50" x2="350.95" y2="302.80" stroke="#231f20" stroke-width="0.6" />
<line x1="349.45" y1="299.50" x2="352.45" y2="299.50" stroke="#231f20" stroke-width="0.6" />
<circle cx="350.90" cy="286.90" r="0.95" fill="none" stroke="#333" stroke-width="0.42"/>
<circle cx="353.50" cy="285.40" r="0.95" fill="none" stroke="#333" stroke-width="0.42"/>
<circle cx="351.20" cy="291.10" r="0.95" fill="none" stroke="#333" stroke-width="0.42"/>
<circle cx="348.10" cy="293.90" r="0.95" fill="none" stroke="#333" stroke-width="0.42"/>
<circle cx="351.20" cy="295.40" r="0.95" fill="none" stroke="#333" stroke-width="0.42"/>
<circle cx="351.20" cy="300.10" r="0.95" fill="none" stroke="#333" stroke-width="0.42"/>
<circle cx="347.80" cy="302.40" r="0.95" fill="none" stroke="#333" stroke-width="0.42"/>
<circle cx="354.30" cy="303.10" r="0.95" fill="none" stroke="#333" stroke-width="0.42"/>
<circle cx="347.80" cy="313.60" r="0.95" fill="none" stroke="#333" stroke-width="0.42"/>
<circle cx="351.20" cy="313.20" r="0.95" fill="none" stroke="#333" stroke-width="0.42"/>
<circle cx="354.30" cy="313.60" r="0.95" fill="none" stroke="#333" stroke-width="0.42"/>
<circle cx="351.20" cy="316.70" r="0.95" fill="none" stroke="#333" stroke-width="0.42"/>
<circle cx="351.20" cy="321.70" r="0.95" fill="none" stroke="#333" stroke-width="0.42"/>
<rect x="359.90" y="298.20" width="8.10" height="59.70" fill="#3a30cf"/>
<line x1="363.95" y1="296.00" x2="363.95" y2="298.20" stroke="#231f20" stroke-width="0.6" />
<line x1="362.45" y1="296.00" x2="365.45" y2="296.00" stroke="#231f20" stroke-width="0.6" />
<path d="M361.50,291.75L362.50,293.60L360.50,293.60Z" fill="none" stroke="#333" stroke-width="0.42"/>
<path d="M364.00,291.25L365.00,293.10L363.00,293.10Z" fill="none" stroke="#333" stroke-width="0.42"/>
<path d="M366.50,291.95L367.50,293.80L365.50,293.80Z" fill="none" stroke="#333" stroke-width="0.42"/>
<path d="M361.00,293.95L362.00,295.80L360.00,295.80Z" fill="none" stroke="#333" stroke-width="0.42"/>
<path d="M363.50,294.45L364.50,296.30L362.50,296.30Z" fill="none" stroke="#333" stroke-width="0.42"/>
<path d="M366.80,294.75L367.80,296.60L365.80,296.60Z" fill="none" stroke="#333" stroke-width="0.42"/>
<path d="M362.00,296.15L363.00,298.00L361.00,298.00Z" fill="none" stroke="#333" stroke-width="0.42"/>
<path d="M365.00,296.45L366.00,298.30L364.00,298.30Z" fill="none" stroke="#333" stroke-width="0.42"/>
<path d="M363.60,301.35L364.60,303.20L362.60,303.20Z" fill="none" stroke="#333" stroke-width="0.42"/>
<path d="M363.60,307.95L364.60,309.80L362.60,309.80Z" fill="none" stroke="#333" stroke-width="0.42"/>
<g transform="translate(202.70,315.10) rotate(-90)"><text x="0" y="0" font-size="7" font-weight="bold" text-anchor="middle" fill="#231f20" textLength="48.6" lengthAdjust="spacingAndGlyphs">Immobility time</text></g>
<g transform="translate(209.50,318.90) rotate(-90)"><text x="0" y="0" font-size="6.3" font-weight="bold" text-anchor="middle" fill="#231f20" textLength="5.8" lengthAdjust="spacingAndGlyphs">(s)</text></g>
<path d="M66.2,91.7V59.7H100.6V64.3" fill="none" stroke="#7a7a7a" stroke-width="0.6"/>
<text x="82.80" y="57.60" font-size="5.5" text-anchor="middle" font-weight="normal" fill="#231f20" >#</text>
<path d="M329.2,279.3V273.2H363.6V289.6" fill="none" stroke="#7a7a7a" stroke-width="0.6"/>
<text x="346.60" y="271.60" font-size="5.5" text-anchor="middle" font-weight="normal" fill="#231f20" >#</text>
<path d="M49.2,292.6H70.3M59.5,292.6V270.2H127.7V283M117.3,283H138.1" fill="none" stroke="#7a7a7a" stroke-width="0.6"/>
<text x="93.40" y="268.50" font-size="6.5" text-anchor="middle" font-weight="normal" fill="#231f20" >§</text>
<text x="168.10" y="129.40" font-size="7.5" text-anchor="middle" font-weight="bold" fill="#231f20" textLength="6.6" lengthAdjust="spacingAndGlyphs" >**</text>
<text x="363.40" y="128.90" font-size="7.5" text-anchor="middle" font-weight="bold" fill="#231f20" >*</text>
<circle cx="98.3" cy="182.8" r="2.2" fill="none" stroke="#a6e6a6" stroke-width="0.75"/>
<text x="101.80" y="185.00" font-size="5.8" text-anchor="start" font-weight="normal" fill="#3a3a3a" textLength="8.3" lengthAdjust="spacingAndGlyphs" >IVC</text>
<circle cx="120.5" cy="182.8" r="2.2" fill="none" stroke="#a9cbbd" stroke-width="0.75"/>
<text x="124.00" y="185.00" font-size="5.8" text-anchor="start" font-weight="normal" fill="#3a3a3a" textLength="15.8" lengthAdjust="spacingAndGlyphs" >Inv-IVC</text>
<circle cx="149.8" cy="182.8" r="2.2" fill="none" stroke="#bfeaf8" stroke-width="0.75"/>
<text x="152.90" y="185.00" font-size="5.8" text-anchor="start" font-weight="normal" fill="#3a3a3a" textLength="9.8" lengthAdjust="spacingAndGlyphs" >OTC</text>
<circle cx="168.2" cy="182.8" r="2.2" fill="none" stroke="#aaaaee" stroke-width="0.75"/>
<text x="171.60" y="185.00" font-size="5.8" text-anchor="start" font-weight="normal" fill="#3a3a3a" textLength="22" lengthAdjust="spacingAndGlyphs" >Fam-OTC</text>
<line x1="94.90" y1="187.50" x2="193.60" y2="187.50" stroke="#6a6a6a" stroke-width="0.6" />
<text x="144.00" y="195.00" font-size="7" text-anchor="middle" font-weight="normal" fill="#3a3a3a" >Sham</text>
<path d="M220.7,179.3L224.1,185.0L217.29999999999998,185.0Z" fill="#38ca33"/>
<text x="225.40" y="184.90" font-size="5.8" text-anchor="start" font-weight="normal" fill="#3a3a3a" textLength="7.6" lengthAdjust="spacingAndGlyphs" >IVC</text>
<path d="M241.8,179.3L245.20000000000002,185.0L238.4,185.0Z" fill="#33876a"/>
<text x="246.90" y="184.90" font-size="5.8" text-anchor="start" font-weight="normal" fill="#3a3a3a" textLength="16" lengthAdjust="spacingAndGlyphs" >Inv-IVC</text>
<path d="M271.6,179.3L275.0,185.0L268.20000000000005,185.0Z" fill="#60cff6"/>
<text x="276.30" y="184.90" font-size="5.8" text-anchor="start" font-weight="normal" fill="#3a3a3a" textLength="9.8" lengthAdjust="spacingAndGlyphs" >OTC</text>
<path d="M294.9,179.3L298.29999999999995,185.0L291.5,185.0Z" fill="#3a30cf"/>
<text x="299.00" y="184.90" font-size="5.8" text-anchor="start" font-weight="normal" fill="#3a3a3a" textLength="22" lengthAdjust="spacingAndGlyphs" >Fam-OTC</text>
<line x1="218.00" y1="187.40" x2="317.00" y2="187.40" stroke="#6a6a6a" stroke-width="0.6" />
<text x="264.20" y="195.20" font-size="6.8" text-anchor="middle" font-weight="normal" fill="#3a3a3a" textLength="9.8" lengthAdjust="spacingAndGlyphs" >SNI</text>
<g>
<defs><clipPath id="dk0"><ellipse cx="0" cy="0" rx="79.9" ry="49.7" transform="translate(527.5,87.8) rotate(-3.8)"/></clipPath></defs>
<ellipse cx="0" cy="0" rx="88.1" ry="55.4" fill="#e1e1e1" transform="translate(512.9,80.7) rotate(3.6)"/>
<ellipse cx="0" cy="0" rx="79.9" ry="49.7" fill="#c4c4c4" transform="translate(527.5,87.8) rotate(-3.8)"/>
<g clip-path="url(#dk0)"><ellipse cx="0" cy="0" rx="88.1" ry="55.4" fill="#bcbcbc" transform="translate(512.9,80.7) rotate(3.6)"/></g>
<line x1="518.60" y1="7.40" x2="518.60" y2="160.40" stroke="#555" stroke-width="0.6" stroke-dasharray="3.2,2.5"/>
<line x1="422.50" y1="84.30" x2="612.50" y2="84.30" stroke="#555" stroke-width="0.6" stroke-dasharray="3.2,2.5"/>
<circle cx="435.70" cy="69.40" r="4.75" fill="#2020d2" fill-opacity="0.82"/>
<circle cx="464.10" cy="56.50" r="4.75" fill="#4ad2fa" fill-opacity="0.82"/>
<circle cx="459.00" cy="65.30" r="4.75" fill="#4ad2fa" fill-opacity="0.82"/>
<circle cx="467.20" cy="65.30" r="4.75" fill="#4ad2fa" fill-opacity="0.82"/>
<circle cx="474.00" cy="71.90" r="4.75" fill="#2020d2" fill-opacity="0.82"/>
<circle cx="472.30" cy="82.20" r="4.75" fill="#2020d2" fill-opacity="0.82"/>
<circle cx="468.60" cy="88.40" r="4.75" fill="#127550" fill-opacity="0.82"/>
<circle cx="466.20" cy="93.90" r="4.75" fill="#4ad2fa" fill-opacity="0.82"/>
<circle cx="463.70" cy="103.80" r="4.75" fill="#22cc1a" fill-opacity="0.82"/>
<circle cx="495.00" cy="66.70" r="4.75" fill="#4ad2fa" fill-opacity="0.82"/>
<circle cx="491.30" cy="75.00" r="4.75" fill="#127550" fill-opacity="0.82"/>
<circle cx="495.00" cy="76.60" r="4.75" fill="#4ad2fa" fill-opacity="0.82"/>
<circle cx="499.50" cy="79.50" r="4.75" fill="#22cc1a" fill-opacity="0.82"/>
<circle cx="489.20" cy="86.30" r="4.75" fill="#4ad2fa" fill-opacity="0.82"/>
<circle cx="498.00" cy="89.80" r="4.75" fill="#4ad2fa" fill-opacity="0.82"/>
<circle cx="507.30" cy="89.40" r="4.75" fill="#22cc1a" fill-opacity="0.82"/>
<circle cx="513.50" cy="86.30" r="4.75" fill="#127550" fill-opacity="0.82"/>
<circle cx="488.40" cy="100.00" r="4.75" fill="#4ad2fa" fill-opacity="0.82"/>
<circle cx="499.50" cy="102.80" r="4.75" fill="#127550" fill-opacity="0.82"/>
<circle cx="506.30" cy="102.80" r="4.75" fill="#4ad2fa" fill-opacity="0.82"/>
<circle cx="502.80" cy="108.50" r="4.75" fill="#2020d2" fill-opacity="0.82"/>
<circle cx="524.80" cy="35.30" r="4.75" fill="#2020d2" fill-opacity="0.82"/>
<circle cx="528.90" cy="35.70" r="4.75" fill="#4ad2fa" fill-opacity="0.82"/>
<circle cx="532.20" cy="44.50" r="4.75" fill="#2020d2" fill-opacity="0.82"/>
<circle cx="528.50" cy="48.70" r="4.75" fill="#2020d2" fill-opacity="0.82"/>
<circle cx="553.20" cy="53.80" r="4.75" fill="#2020d2" fill-opacity="0.82"/>
<circle cx="547.40" cy="60.40" r="4.75" fill="#2020d2" fill-opacity="0.82"/>
<circle cx="555.70" cy="64.10" r="4.75" fill="#4ad2fa" fill-opacity="0.82"/>
<circle cx="563.10" cy="69.90" r="4.75" fill="#2020d2" fill-opacity="0.82"/>
<circle cx="521.30" cy="75.40" r="4.75" fill="#22cc1a" fill-opacity="0.82"/>
<circle cx="524.40" cy="72.70" r="4.75" fill="#4ad2fa" fill-opacity="0.82"/>
<circle cx="526.50" cy="77.50" r="4.75" fill="#127550" fill-opacity="0.82"/>
<circle cx="548.00" cy="78.90" r="4.75" fill="#2020d2" fill-opacity="0.82"/>
<circle cx="542.90" cy="85.00" r="4.75" fill="#2020d2" fill-opacity="0.82"/>
<circle cx="513.10" cy="87.80" r="4.75" fill="#127550" fill-opacity="0.82"/>
<circle cx="530.60" cy="98.70" r="4.75" fill="#22cc1a" fill-opacity="0.82"/>
<circle cx="531.00" cy="95.00" r="4.75" fill="#127550" fill-opacity="0.82"/>
<circle cx="571.70" cy="98.70" r="4.75" fill="#22cc1a" fill-opacity="0.82"/>
<circle cx="553.20" cy="104.20" r="4.75" fill="#22cc1a" fill-opacity="0.82"/>
<circle cx="520.20" cy="122.80" r="4.75" fill="#2020d2" fill-opacity="0.82"/>
<circle cx="540.20" cy="111.50" r="4.75" fill="#2020d2" fill-opacity="0.82"/>
<circle cx="556.00" cy="119.30" r="4.75" fill="#2020d2" fill-opacity="0.82"/>
<rect x="496.90" y="47.50" width="3.6" height="3.6" fill="#2020d2" fill-opacity="0.85"/>
<rect x="509.20" y="48.90" width="3.6" height="3.6" fill="#4ad2fa" fill-opacity="0.85"/>
<rect x="503.40" y="72.20" width="3.6" height="3.6" fill="#2020d2" fill-opacity="0.85"/>
<rect x="454.70" y="98.20" width="3.6" height="3.6" fill="#127550" fill-opacity="0.85"/>
<rect x="469.50" y="96.40" width="3.6" height="3.6" fill="#2020d2" fill-opacity="0.85"/>
<rect x="482.90" y="110.60" width="3.6" height="3.6" fill="#2020d2" fill-opacity="0.85"/>
<rect x="508.00" y="110.60" width="3.6" height="3.6" fill="#2020d2" fill-opacity="0.85"/>
<rect x="494.20" y="106.10" width="3.6" height="3.6" fill="#127550" fill-opacity="0.85"/>
<rect x="505.50" y="89.60" width="3.6" height="3.6" fill="#2020d2" fill-opacity="0.85"/>
<rect x="508.60" y="82.40" width="3.6" height="3.6" fill="#127550" fill-opacity="0.85"/>
<rect x="514.80" y="80.40" width="3.6" height="3.6" fill="#127550" fill-opacity="0.85"/>
<rect x="516.20" y="101.00" width="3.6" height="3.6" fill="#127550" fill-opacity="0.85"/>
<rect x="516.80" y="65.40" width="3.6" height="3.6" fill="#4ad2fa" fill-opacity="0.85"/>
<rect x="522.20" y="65.40" width="3.6" height="3.6" fill="#4ad2fa" fill-opacity="0.85"/>
<rect x="531.90" y="68.90" width="3.6" height="3.6" fill="#4ad2fa" fill-opacity="0.85"/>
<rect x="539.10" y="70.10" width="3.6" height="3.6" fill="#4ad2fa" fill-opacity="0.85"/>
<rect x="533.90" y="73.60" width="3.6" height="3.6" fill="#4ad2fa" fill-opacity="0.85"/>
<rect x="539.10" y="76.30" width="3.6" height="3.6" fill="#22cc1a" fill-opacity="0.85"/>
<rect x="551.40" y="70.90" width="3.6" height="3.6" fill="#22cc1a" fill-opacity="0.85"/>
<rect x="555.50" y="65.40" width="3.6" height="3.6" fill="#4ad2fa" fill-opacity="0.85"/>
<rect x="571.00" y="78.30" width="3.6" height="3.6" fill="#22cc1a" fill-opacity="0.85"/>
<rect x="577.10" y="81.20" width="3.6" height="3.6" fill="#2020d2" fill-opacity="0.85"/>
<rect x="554.50" y="83.20" width="3.6" height="3.6" fill="#2020d2" fill-opacity="0.85"/>
<rect x="541.10" y="89.50" width="3.6" height="3.6" fill="#4ad2fa" fill-opacity="0.85"/>
<rect x="528.20" y="87.00" width="3.6" height="3.6" fill="#4ad2fa" fill-opacity="0.85"/>
<rect x="515.40" y="80.80" width="3.6" height="3.6" fill="#127550" fill-opacity="0.85"/>
<rect x="538.00" y="102.40" width="3.6" height="3.6" fill="#2020d2" fill-opacity="0.85"/>
<rect x="557.60" y="101.40" width="3.6" height="3.6" fill="#2020d2" fill-opacity="0.85"/>
<rect x="577.10" y="99.70" width="3.6" height="3.6" fill="#4ad2fa" fill-opacity="0.85"/>
<rect x="490.30" y="121.00" width="3.6" height="3.6" fill="#2020d2" fill-opacity="0.85"/>
<rect x="507.20" y="108.70" width="3.6" height="3.6" fill="#127550" fill-opacity="0.85"/>
<rect x="519.90" y="113.30" width="3.6" height="3.6" fill="#22cc1a" fill-opacity="0.85"/>
<rect x="540.00" y="107.10" width="3.6" height="3.6" fill="#4ad2fa" fill-opacity="0.85"/>
<rect x="581.80" y="116.40" width="3.6" height="3.6" fill="#22cc1a" fill-opacity="0.85"/>
<rect x="504.20" y="73.70" width="3.6" height="3.6" fill="#4ad2fa" fill-opacity="0.85"/>
<path d="M612.5,7.4V160.4H422.5V7.4" fill="none" stroke="#8c8c8c" stroke-width="0.9"/>
<line x1="422.5" y1="7.4" x2="612.5" y2="7.4" stroke="#8c8c8c" stroke-width="0.9"/>
<line x1="420.00" y1="7.40" x2="422.50" y2="7.40" stroke="#231f20" stroke-width="0.6" />
<line x1="612.50" y1="7.40" x2="615.00" y2="7.40" stroke="#8a8a8a" stroke-width="0.6" />
<text x="419.00" y="9.70" font-size="6.3" text-anchor="end" font-weight="bold" fill="#231f20" >4</text>
<line x1="420.00" y1="45.65" x2="422.50" y2="45.65" stroke="#231f20" stroke-width="0.6" />
<line x1="612.50" y1="45.65" x2="615.00" y2="45.65" stroke="#8a8a8a" stroke-width="0.6" />
<text x="419.00" y="47.95" font-size="6.3" text-anchor="end" font-weight="bold" fill="#231f20" >2</text>
<line x1="420.00" y1="83.90" x2="422.50" y2="83.90" stroke="#231f20" stroke-width="0.6" />
<line x1="612.50" y1="83.90" x2="615.00" y2="83.90" stroke="#8a8a8a" stroke-width="0.6" />
<text x="419.00" y="86.20" font-size="6.3" text-anchor="end" font-weight="bold" fill="#231f20" >0</text>
<line x1="420.00" y1="122.15" x2="422.50" y2="122.15" stroke="#231f20" stroke-width="0.6" />
<line x1="612.50" y1="122.15" x2="615.00" y2="122.15" stroke="#8a8a8a" stroke-width="0.6" />
<text x="419.00" y="124.45" font-size="6.3" text-anchor="end" font-weight="bold" fill="#231f20" >-2</text>
<line x1="420.00" y1="160.40" x2="422.50" y2="160.40" stroke="#231f20" stroke-width="0.6" />
<line x1="612.50" y1="160.40" x2="615.00" y2="160.40" stroke="#8a8a8a" stroke-width="0.6" />
<text x="419.00" y="162.70" font-size="6.3" text-anchor="end" font-weight="bold" fill="#231f20" >-4</text>
<line x1="424.20" y1="160.40" x2="424.20" y2="162.90" stroke="#231f20" stroke-width="0.6" />
<text x="424.20" y="169.70" font-size="6.3" text-anchor="middle" font-weight="bold" fill="#231f20" >-4</text>
<line x1="471.28" y1="160.40" x2="471.28" y2="162.90" stroke="#231f20" stroke-width="0.6" />
<text x="471.28" y="169.70" font-size="6.3" text-anchor="middle" font-weight="bold" fill="#231f20" >-2</text>
<line x1="518.36" y1="160.40" x2="518.36" y2="162.90" stroke="#231f20" stroke-width="0.6" />
<text x="518.36" y="169.70" font-size="6.3" text-anchor="middle" font-weight="bold" fill="#231f20" >0</text>
<line x1="565.44" y1="160.40" x2="565.44" y2="162.90" stroke="#231f20" stroke-width="0.6" />
<text x="565.44" y="169.70" font-size="6.3" text-anchor="middle" font-weight="bold" fill="#231f20" >2</text>
<line x1="612.52" y1="160.40" x2="612.52" y2="162.90" stroke="#231f20" stroke-width="0.6" />
<text x="612.52" y="169.70" font-size="6.3" text-anchor="middle" font-weight="bold" fill="#231f20" >4</text>
<text x="519.00" y="179.90" font-size="7" text-anchor="middle" font-weight="bold" fill="#231f20" textLength="47" lengthAdjust="spacingAndGlyphs" >PC 1 (48.30%)</text>
<g transform="translate(411.3,83) rotate(-90)"><text x="0" y="0" font-size="7" font-weight="bold" text-anchor="middle" fill="#231f20" textLength="46.5" lengthAdjust="spacingAndGlyphs">PC 2 (28.72%)</text></g>
</g>
<g>
<defs><clipPath id="dk206"><ellipse cx="0" cy="0" rx="79.9" ry="49.7" transform="translate(527.5,294.0) rotate(-3.8)"/></clipPath></defs>
<ellipse cx="0" cy="0" rx="88.1" ry="55.4" fill="#e1e1e1" transform="translate(512.9,286.9) rotate(3.6)"/>
<ellipse cx="0" cy="0" rx="79.9" ry="49.7" fill="#c4c4c4" transform="translate(527.5,294.0) rotate(-3.8)"/>
<g clip-path="url(#dk206)"><ellipse cx="0" cy="0" rx="88.1" ry="55.4" fill="#bcbcbc" transform="translate(512.9,286.9) rotate(3.6)"/></g>
<line x1="518.60" y1="213.60" x2="518.60" y2="366.60" stroke="#555" stroke-width="0.6" stroke-dasharray="3.2,2.5"/>
<line x1="422.50" y1="290.50" x2="612.50" y2="290.50" stroke="#555" stroke-width="0.6" stroke-dasharray="3.2,2.5"/>
<circle cx="435.70" cy="275.60" r="4.75" fill="#2020d2" fill-opacity="0.3"/>
<circle cx="464.10" cy="262.70" r="4.75" fill="#4ad2fa" fill-opacity="0.3"/>
<circle cx="459.00" cy="271.50" r="4.75" fill="#4ad2fa" fill-opacity="0.3"/>
<circle cx="467.20" cy="271.50" r="4.75" fill="#4ad2fa" fill-opacity="0.3"/>
<circle cx="474.00" cy="278.10" r="4.75" fill="#2020d2" fill-opacity="0.3"/>
<circle cx="472.30" cy="288.40" r="4.75" fill="#2020d2" fill-opacity="0.3"/>
<circle cx="468.60" cy="294.60" r="4.75" fill="#127550" fill-opacity="0.3"/>
<circle cx="466.20" cy="300.10" r="4.75" fill="#4ad2fa" fill-opacity="0.3"/>
<circle cx="463.70" cy="310.00" r="4.75" fill="#22cc1a" fill-opacity="0.3"/>
<circle cx="495.00" cy="272.90" r="4.75" fill="#4ad2fa" fill-opacity="0.3"/>
<circle cx="491.30" cy="281.20" r="4.75" fill="#127550" fill-opacity="0.3"/>
<circle cx="495.00" cy="282.80" r="4.75" fill="#4ad2fa" fill-opacity="0.3"/>
<circle cx="499.50" cy="285.70" r="4.75" fill="#22cc1a" fill-opacity="0.3"/>
<circle cx="489.20" cy="292.50" r="4.75" fill="#4ad2fa" fill-opacity="0.85"/>
<circle cx="498.00" cy="296.00" r="4.75" fill="#4ad2fa" fill-opacity="0.85"/>
<circle cx="507.30" cy="295.60" r="4.75" fill="#22cc1a" fill-opacity="0.85"/>
<circle cx="513.50" cy="292.50" r="4.75" fill="#127550" fill-opacity="0.3"/>
<circle cx="488.40" cy="306.20" r="4.75" fill="#4ad2fa" fill-opacity="0.3"/>
<circle cx="499.50" cy="309.00" r="4.75" fill="#127550" fill-opacity="0.3"/>
<circle cx="506.30" cy="309.00" r="4.75" fill="#4ad2fa" fill-opacity="0.3"/>
<circle cx="502.80" cy="314.70" r="4.75" fill="#2020d2" fill-opacity="0.3"/>
<circle cx="524.80" cy="241.50" r="4.75" fill="#2020d2" fill-opacity="0.3"/>
<circle cx="528.90" cy="241.90" r="4.75" fill="#4ad2fa" fill-opacity="0.3"/>
<circle cx="532.20" cy="250.70" r="4.75" fill="#2020d2" fill-opacity="0.3"/>
<circle cx="528.50" cy="254.90" r="4.75" fill="#2020d2" fill-opacity="0.3"/>
<circle cx="553.20" cy="260.00" r="4.75" fill="#2020d2" fill-opacity="0.3"/>
<circle cx="547.40" cy="266.60" r="4.75" fill="#2020d2" fill-opacity="0.3"/>
<circle cx="555.70" cy="270.30" r="4.75" fill="#4ad2fa" fill-opacity="0.3"/>
<circle cx="563.10" cy="276.10" r="4.75" fill="#2020d2" fill-opacity="0.3"/>
<circle cx="521.30" cy="281.60" r="4.75" fill="#22cc1a" fill-opacity="0.3"/>
<circle cx="524.40" cy="278.90" r="4.75" fill="#4ad2fa" fill-opacity="0.3"/>
<circle cx="526.50" cy="283.70" r="4.75" fill="#127550" fill-opacity="0.3"/>
<circle cx="548.00" cy="285.10" r="4.75" fill="#2020d2" fill-opacity="0.3"/>
<circle cx="542.90" cy="291.20" r="4.75" fill="#2020d2" fill-opacity="0.3"/>
<circle cx="513.10" cy="294.00" r="4.75" fill="#127550" fill-opacity="0.3"/>
<circle cx="530.60" cy="304.90" r="4.75" fill="#22cc1a" fill-opacity="0.3"/>
<circle cx="531.00" cy="301.20" r="4.75" fill="#127550" fill-opacity="0.3"/>
<circle cx="571.70" cy="304.90" r="4.75" fill="#22cc1a" fill-opacity="0.85"/>
<circle cx="553.20" cy="310.40" r="4.75" fill="#22cc1a" fill-opacity="0.3"/>
<circle cx="520.20" cy="329.00" r="4.75" fill="#2020d2" fill-opacity="0.3"/>
<circle cx="540.20" cy="317.70" r="4.75" fill="#2020d2" fill-opacity="0.3"/>
<circle cx="556.00" cy="325.50" r="4.75" fill="#2020d2" fill-opacity="0.3"/>
<rect x="496.90" y="253.70" width="3.6" height="3.6" fill="#2020d2" fill-opacity="0.32"/>
<rect x="509.20" y="255.10" width="3.6" height="3.6" fill="#4ad2fa" fill-opacity="0.85"/>
<rect x="503.40" y="278.40" width="3.6" height="3.6" fill="#2020d2" fill-opacity="0.32"/>
<rect x="454.70" y="304.40" width="3.6" height="3.6" fill="#127550" fill-opacity="0.32"/>
<rect x="469.50" y="302.60" width="3.6" height="3.6" fill="#2020d2" fill-opacity="0.32"/>
<rect x="482.90" y="316.80" width="3.6" height="3.6" fill="#2020d2" fill-opacity="0.32"/>
<rect x="508.00" y="316.80" width="3.6" height="3.6" fill="#2020d2" fill-opacity="0.32"/>
<rect x="494.20" y="312.30" width="3.6" height="3.6" fill="#127550" fill-opacity="0.32"/>
<rect x="505.50" y="295.80" width="3.6" height="3.6" fill="#2020d2" fill-opacity="0.32"/>
<rect x="508.60" y="288.60" width="3.6" height="3.6" fill="#127550" fill-opacity="0.32"/>
<rect x="514.80" y="286.60" width="3.6" height="3.6" fill="#127550" fill-opacity="0.32"/>
<rect x="516.20" y="307.20" width="3.6" height="3.6" fill="#127550" fill-opacity="0.32"/>
<rect x="516.80" y="271.60" width="3.6" height="3.6" fill="#4ad2fa" fill-opacity="0.32"/>
<rect x="522.20" y="271.60" width="3.6" height="3.6" fill="#4ad2fa" fill-opacity="0.32"/>
<rect x="531.90" y="275.10" width="3.6" height="3.6" fill="#4ad2fa" fill-opacity="0.32"/>
<rect x="539.10" y="276.30" width="3.6" height="3.6" fill="#4ad2fa" fill-opacity="0.32"/>
<rect x="533.90" y="279.80" width="3.6" height="3.6" fill="#4ad2fa" fill-opacity="0.32"/>
<rect x="539.10" y="282.50" width="3.6" height="3.6" fill="#22cc1a" fill-opacity="0.32"/>
<rect x="551.40" y="277.10" width="3.6" height="3.6" fill="#22cc1a" fill-opacity="0.32"/>
<rect x="555.50" y="271.60" width="3.6" height="3.6" fill="#4ad2fa" fill-opacity="0.32"/>
<rect x="571.00" y="284.50" width="3.6" height="3.6" fill="#22cc1a" fill-opacity="0.32"/>
<rect x="577.10" y="287.40" width="3.6" height="3.6" fill="#2020d2" fill-opacity="0.32"/>
<rect x="554.50" y="289.40" width="3.6" height="3.6" fill="#2020d2" fill-opacity="0.32"/>
<rect x="541.10" y="295.70" width="3.6" height="3.6" fill="#4ad2fa" fill-opacity="0.32"/>
<rect x="528.20" y="293.20" width="3.6" height="3.6" fill="#4ad2fa" fill-opacity="0.32"/>
<rect x="515.40" y="287.00" width="3.6" height="3.6" fill="#127550" fill-opacity="0.32"/>
<rect x="538.00" y="308.60" width="3.6" height="3.6" fill="#2020d2" fill-opacity="0.32"/>
<rect x="557.60" y="307.60" width="3.6" height="3.6" fill="#2020d2" fill-opacity="0.32"/>
<rect x="577.10" y="305.90" width="3.6" height="3.6" fill="#4ad2fa" fill-opacity="0.32"/>
<rect x="490.30" y="327.20" width="3.6" height="3.6" fill="#2020d2" fill-opacity="0.32"/>
<rect x="507.20" y="314.90" width="3.6" height="3.6" fill="#127550" fill-opacity="0.32"/>
<rect x="519.90" y="319.50" width="3.6" height="3.6" fill="#22cc1a" fill-opacity="0.32"/>
<rect x="540.00" y="313.30" width="3.6" height="3.6" fill="#4ad2fa" fill-opacity="0.32"/>
<rect x="581.80" y="322.60" width="3.6" height="3.6" fill="#22cc1a" fill-opacity="0.32"/>
<rect x="504.20" y="279.90" width="3.6" height="3.6" fill="#4ad2fa" fill-opacity="0.32"/>
<path d="M612.5,213.6V366.6H422.5V213.6" fill="none" stroke="#8c8c8c" stroke-width="0.9"/>
<line x1="422.5" y1="213.9" x2="612.5" y2="213.9" stroke="#d4d4d4" stroke-width="1.4"/>
<line x1="420.00" y1="213.60" x2="422.50" y2="213.60" stroke="#231f20" stroke-width="0.6" />
<line x1="612.50" y1="213.60" x2="615.00" y2="213.60" stroke="#8a8a8a" stroke-width="0.6" />
<text x="419.00" y="215.90" font-size="6.3" text-anchor="end" font-weight="bold" fill="#231f20" >4</text>
<line x1="420.00" y1="251.85" x2="422.50" y2="251.85" stroke="#231f20" stroke-width="0.6" />
<line x1="612.50" y1="251.85" x2="615.00" y2="251.85" stroke="#8a8a8a" stroke-width="0.6" />
<text x="419.00" y="254.15" font-size="6.3" text-anchor="end" font-weight="bold" fill="#231f20" >2</text>
<line x1="420.00" y1="290.10" x2="422.50" y2="290.10" stroke="#231f20" stroke-width="0.6" />
<line x1="612.50" y1="290.10" x2="615.00" y2="290.10" stroke="#8a8a8a" stroke-width="0.6" />
<text x="419.00" y="292.40" font-size="6.3" text-anchor="end" font-weight="bold" fill="#231f20" >0</text>
<line x1="420.00" y1="328.35" x2="422.50" y2="328.35" stroke="#231f20" stroke-width="0.6" />
<line x1="612.50" y1="328.35" x2="615.00" y2="328.35" stroke="#8a8a8a" stroke-width="0.6" />
<text x="419.00" y="330.65" font-size="6.3" text-anchor="end" font-weight="bold" fill="#231f20" >-2</text>
<line x1="420.00" y1="366.60" x2="422.50" y2="366.60" stroke="#231f20" stroke-width="0.6" />
<line x1="612.50" y1="366.60" x2="615.00" y2="366.60" stroke="#8a8a8a" stroke-width="0.6" />
<text x="419.00" y="368.90" font-size="6.3" text-anchor="end" font-weight="bold" fill="#231f20" >-4</text>
<line x1="424.20" y1="366.60" x2="424.20" y2="369.10" stroke="#231f20" stroke-width="0.6" />
<text x="424.20" y="375.90" font-size="6.3" text-anchor="middle" font-weight="bold" fill="#231f20" >-4</text>
<line x1="471.28" y1="366.60" x2="471.28" y2="369.10" stroke="#231f20" stroke-width="0.6" />
<text x="471.28" y="375.90" font-size="6.3" text-anchor="middle" font-weight="bold" fill="#231f20" >-2</text>
<line x1="518.36" y1="366.60" x2="518.36" y2="369.10" stroke="#231f20" stroke-width="0.6" />
<text x="518.36" y="375.90" font-size="6.3" text-anchor="middle" font-weight="bold" fill="#231f20" >0</text>
<line x1="565.44" y1="366.60" x2="565.44" y2="369.10" stroke="#231f20" stroke-width="0.6" />
<text x="565.44" y="375.90" font-size="6.3" text-anchor="middle" font-weight="bold" fill="#231f20" >2</text>
<line x1="612.52" y1="366.60" x2="612.52" y2="369.10" stroke="#231f20" stroke-width="0.6" />
<text x="612.52" y="375.90" font-size="6.3" text-anchor="middle" font-weight="bold" fill="#231f20" >4</text>
<text x="519.00" y="386.10" font-size="7" text-anchor="middle" font-weight="bold" fill="#231f20" textLength="47" lengthAdjust="spacingAndGlyphs" >PC 1 (48.30%)</text>
<g transform="translate(411.3,289.2) rotate(-90)"><text x="0" y="0" font-size="7" font-weight="bold" text-anchor="middle" fill="#231f20" textLength="46.5" lengthAdjust="spacingAndGlyphs">PC 2 (28.72%)</text></g>
</g>
<line x1="518.50" y1="290.30" x2="518.97" y2="243.40" stroke="#111" stroke-width="1.1" />
<path d="M519.00,240.40L521.54,246.03L518.95,245.33L516.34,245.97Z" fill="#111"/>
<line x1="518.50" y1="290.30" x2="544.49" y2="245.59" stroke="#111" stroke-width="1.1" />
<path d="M546.00,243.00L545.43,249.15L543.52,247.26L540.94,246.53Z" fill="#111"/>
<line x1="518.50" y1="290.30" x2="449.98" y2="282.54" stroke="#111" stroke-width="1.1" />
<path d="M447.00,282.20L452.86,280.25L451.90,282.75L452.27,285.41Z" fill="#111"/>
<line x1="518.50" y1="290.30" x2="565.09" y2="328.89" stroke="#111" stroke-width="1.1" />
<path d="M567.40,330.80L561.43,329.23L563.60,327.66L564.75,325.23Z" fill="#111"/>
<text x="515.40" y="235.80" font-size="6.6" text-anchor="middle" font-weight="normal" fill="#231f20" textLength="19.8" lengthAdjust="spacingAndGlyphs" >Speed</text>
<text x="558.10" y="240.30" font-size="6.6" text-anchor="middle" font-weight="normal" fill="#231f20" textLength="20.6" lengthAdjust="spacingAndGlyphs" >Immob</text>
<text x="448.60" y="277.20" font-size="6.6" text-anchor="middle" font-weight="normal" fill="#231f20" textLength="9.5" lengthAdjust="spacingAndGlyphs" >OA</text>
<text x="570.90" y="339.80" font-size="6.6" text-anchor="middle" font-weight="normal" fill="#231f20" textLength="9.2" lengthAdjust="spacingAndGlyphs" >CA</text>
<text x="622.00" y="57.00" font-size="10.8" text-anchor="start" font-weight="normal" fill="#231f20" textLength="30" lengthAdjust="spacingAndGlyphs" >Model</text>
<rect x="625" y="60.9" width="6.6" height="6.1" fill="#bdbdbd"/>
<text x="638.90" y="66.80" font-size="8.2" text-anchor="start" font-weight="normal" fill="#231f20" textLength="19.1" lengthAdjust="spacingAndGlyphs" >Sham</text>
<circle cx="628.2" cy="75.1" r="5.5" fill="#bdbdbd"/>
<text x="639.00" y="78.40" font-size="8.2" text-anchor="start" font-weight="normal" fill="#231f20" textLength="9.9" lengthAdjust="spacingAndGlyphs" >SNI</text>
<text x="622.20" y="108.50" font-size="10.8" text-anchor="start" font-weight="normal" fill="#231f20" textLength="30.6" lengthAdjust="spacingAndGlyphs" >Group</text>
<circle cx="625.8" cy="120.7" r="4.1" fill="#38ca33"/>
<text x="636.60" y="124.20" font-size="8.8" text-anchor="start" font-weight="normal" fill="#231f20" textLength="11.5" lengthAdjust="spacingAndGlyphs" >IVC</text>
<circle cx="625.8" cy="132.2" r="4.1" fill="#33876a"/>
<text x="636.60" y="135.70" font-size="8.8" text-anchor="start" font-weight="normal" fill="#231f20" textLength="24.5" lengthAdjust="spacingAndGlyphs" >Inv-IVC</text>
<circle cx="625.8" cy="143.2" r="4.1" fill="#60cff6"/>
<text x="636.60" y="146.70" font-size="8.8" text-anchor="start" font-weight="normal" fill="#231f20" textLength="16" lengthAdjust="spacingAndGlyphs" >OTC</text>
<circle cx="625.8" cy="154.7" r="4.1" fill="#3a30cf"/>
<text x="636.60" y="158.20" font-size="8.8" text-anchor="start" font-weight="normal" fill="#231f20" textLength="32.4" lengthAdjust="spacingAndGlyphs" >Fam-OTC</text>
</g></svg></body></html>
